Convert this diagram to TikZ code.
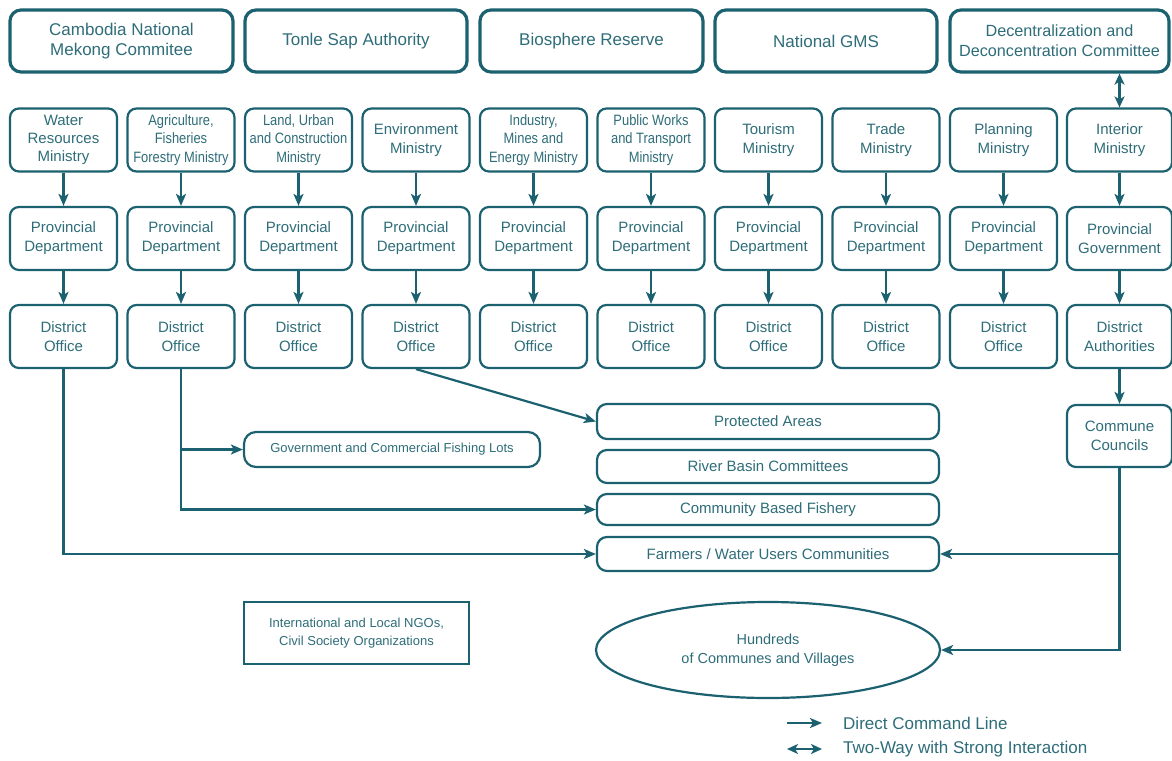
\documentclass[tikz,border=0pt]{standalone}
\usepackage{fontspec}
\setmainfont{Liberation Sans}
\newfontfamily\narrowfont[FakeStretch=0.86]{Liberation Sans}
\usetikzlibrary{arrows.meta,shapes.geometric}
\definecolor{ln}{HTML}{1B6170}
\definecolor{tx}{HTML}{2E6D79}
\begin{document}
\begin{tikzpicture}[x=1pt,y=-1pt,
  bigbox/.style={draw=ln,line width=3.2pt,rounded corners=11pt,minimum width=#1,minimum height=62pt,text=tx,align=center,font=\fontsize{17}{20}\selectfont,inner sep=0pt},
  minbox/.style={draw=ln,line width=2.2pt,rounded corners=9pt,minimum width=107pt,minimum height=63pt,text=tx,align=center,font=\fontsize{15}{19}\selectfont,inner sep=0pt},
  nbox/.style={minbox,font=\narrowfont\fontsize{15}{18.3}\selectfont},
  tbox/.style={minbox,font=\fontsize{15}{18.3}\selectfont},
  lowbox/.style={draw=ln,line width=2.2pt,rounded corners=10pt,minimum width=342pt,minimum height=#1,text=tx,font=\fontsize{15}{19}\selectfont,inner sep=0pt},
  arr/.style={draw=ln,line width=2.2pt,-{Stealth[length=12pt,width=10pt,inset=3pt]}},
  darr/.style={draw=ln,line width=2.2pt,{Stealth[length=11pt,width=10pt,inset=3pt]}-{Stealth[length=11pt,width=10pt,inset=3pt]}},
  legtext/.style={anchor=west,text=tx,font=\fontsize{17}{20}\selectfont,inner sep=0pt}
]
\useasboundingbox[fill=white] (0,0) rectangle (1172,760);

% top row
\node[bigbox=223pt] (t1) at (121.5,41) {Cambodia National\\Mekong Commitee};
\node[bigbox=222pt] (t2) at (356,41) {Tonle Sap Authority};
\node[bigbox=223pt] (t3) at (591.5,41) {Biosphere Reserve};
\node[bigbox=222pt] (t4) at (826,41) {National GMS};
\node[bigbox=219pt,font=\fontsize{16.2}{20}\selectfont] (t5) at (1059.5,41) {Decentralization and\\Deconcentration Committee};

% ministries
\node[tbox] (m1) at (63.5,140) {Water\\Resources\\Ministry};
\node[nbox] (m2) at (181,140) {Agriculture,\\Fisheries\\Forestry Ministry};
\node[nbox] (m3) at (298.5,140) {Land, Urban\\and Construction\\Ministry};
\node[minbox] (m4) at (416,140) {Environment\\Ministry};
\node[nbox] (m5) at (533.5,140) {Industry,\\Mines and\\Energy Ministry};
\node[nbox] (m6) at (651,140) {Public Works\\and Transport\\Ministry};
\node[minbox] (m7) at (768.5,140) {Tourism\\Ministry};
\node[minbox] (m8) at (886,140) {Trade\\Ministry};
\node[minbox] (m9) at (1003.5,140) {Planning\\Ministry};
\node[minbox,minimum width=105pt] (m10) at (1119.5,140) {Interior\\Ministry};

% provincial and district rows
\foreach \i/\x in {1/63.5,2/181,3/298.5,4/416,5/533.5,6/651,7/768.5,8/886,9/1003.5}{
  \node[minbox] (p\i) at (\x,238.5) {Provincial\\Department};
  \node[minbox] (d\i) at (\x,336.5) {District\\Office};
}
\node[minbox,minimum width=105pt] (p10) at (1119.5,238.5) {Provincial\\Government};
\node[minbox,minimum width=105pt] (d10) at (1119.5,336.5) {District\\Authorities};

\foreach \i in {1,...,10}{
  \draw[arr] (m\i) -- (p\i);
  \draw[arr] (p\i) -- (d\i);
}
\draw[darr] (m10.north) -- (m10.north |- t5.south);

% lower boxes
\node[lowbox=35pt] (pa) at (768,421.5) {Protected Areas};
\node[lowbox=33pt] (rbc) at (768,466.5) {River Basin Committees};
\node[lowbox=31pt] (cbf) at (768,509.5) {Community Based Fishery};
\node[lowbox=34pt] (fw) at (768,554) {Farmers / Water Users Communities};
\node[draw=ln,line width=2.2pt,rounded corners=12pt,minimum width=296pt,minimum height=35pt,text=tx,font=\fontsize{13}{16}\selectfont,inner sep=0pt] (gov) at (392,449.5) {Government and Commercial Fishing Lots};
\node[draw=ln,line width=2.2pt,minimum width=225pt,minimum height=62pt,text=tx,align=center,font=\fontsize{13}{18}\selectfont,inner sep=0pt] (ngo) at (356.5,633) {International and Local NGOs,\\Civil Society Organizations};
\node[minbox,minimum width=105pt,minimum height=62pt] (cc) at (1119.5,436) {Commune\\Councils};
\node[draw=ln,line width=2.2pt,ellipse,minimum width=344pt,minimum height=96pt,text=tx,align=center,font=\fontsize{14.5}{19}\selectfont,inner sep=0pt] (vill) at (768,650) {Hundreds\\of Communes and Villages};

% connectors
\draw[arr] (d1.south) |- (fw.west);
\draw[arr] (d2.south) |- (cbf.west);
\draw[arr] (d2.south |- gov.west) -- (gov.west);
\draw[arr] (d4.south) -- (pa.west);
\draw[arr] (d10) -- (cc);
\draw[arr] (cc.south) |- (vill.east);
\draw[arr] (cc.south |- fw.east) -- (fw.east);

% legend
\coordinate (lg1a) at (787,723);
\coordinate (lg1b) at (822,723);
\coordinate (lg2a) at (787,749);
\coordinate (lg2b) at (822,749);
\draw[arr] (lg1a) -- (lg1b);
\draw[darr] (lg2a) -- (lg2b);
\node[legtext] (lt1) at (843,723) {Direct Command Line};
\node[legtext] (lt2) at (843,749) {Two-Way with Strong Interaction};
\end{tikzpicture}
\end{document}
